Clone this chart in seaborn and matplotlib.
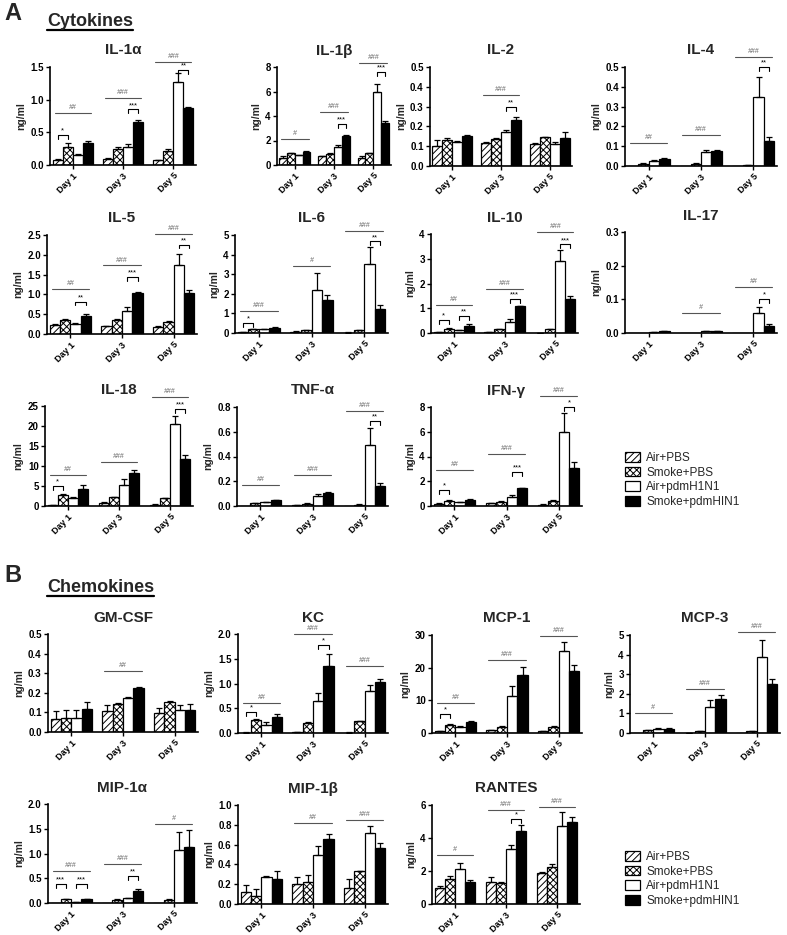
import numpy as np
import pandas as pd
import matplotlib
matplotlib.use("Agg")
import matplotlib.pyplot as plt
import seaborn as sns
from matplotlib.patches import Patch
from matplotlib.lines import Line2D

sns.set_theme(style="ticks")
plt.rcParams["font.family"] = ["Liberation Sans", "DejaVu Sans"]
plt.rcParams["hatch.linewidth"] = 0.7

# ---------------- data ----------------
days = ["Day 1", "Day 3", "Day 5"]
groups = ["Air+PBS", "Smoke+PBS", "Air+pdmH1N1", "Smoke+pdmHIN1"]
colors = ["white", "white", "white", "black"]
hatches = ["/////", "xxxxx", "", ""]

# means: one row per day, 4 groups; sem same layout
il1a_mean = [[0.08, 0.27, 0.15, 0.33], [0.09, 0.24, 0.27, 0.66], [0.07, 0.21, 1.27, 0.87]]
il1a_sem = [[0.005, 0.07, 0.02, 0.04], [0.01, 0.03, 0.05, 0.03], [0.005, 0.03, 0.14, 0.02]]
il1a_sig = [(0, "##", 0.79), (0, "*", 0.46, (0, 1)), (1, "###", 1.03), (1, "***", 0.85, (2, 3)),
            (2, "###", 1.57), (2, "**", 1.46, (2, 3))]

il1b_mean = [[0.55, 0.95, 0.8, 1.05], [0.7, 0.9, 1.45, 2.4], [0.55, 0.95, 6.0, 3.45]]
il1b_sem = [[0.15, 0.05, 0.03, 0.1], [0.05, 0.05, 0.15, 0.08], [0.15, 0.05, 0.65, 0.12]]
il1b_sig = [(0, "#", 2.1), (1, "###", 4.3), (1, "***", 3.35, (2, 3)), (2, "###", 8.35), (2, "***", 7.6, (2, 3))]

il2_mean = [[0.10, 0.13, 0.12, 0.15], [0.115, 0.138, 0.17, 0.232], [0.112, 0.145, 0.11, 0.14]]
il2_sem = [[0.03, 0.01, 0.005, 0.008], [0.005, 0.005, 0.01, 0.013], [0.005, 0.003, 0.012, 0.032]]
il2_sig = [(1, "###", 0.36), (1, "**", 0.30, (2, 3))]

il4_mean = [[0.002, 0.01, 0.025, 0.035], [0.001, 0.012, 0.07, 0.075], [0.001, 0.004, 0.35, 0.125]]
il4_sem = [[0.0, 0.004, 0.003, 0.005], [0.0, 0.004, 0.013, 0.008], [0.0, 0.002, 0.1, 0.02]]
il4_sig = [(0, "##", 0.115), (1, "###", 0.155), (2, "###", 0.55), (2, "**", 0.50, (2, 3))]

il5_mean = [[0.22, 0.35, 0.26, 0.45], [0.2, 0.36, 0.58, 1.04], [0.18, 0.31, 1.74, 1.03]]
il5_sem = [[0.02, 0.03, 0.02, 0.05], [0.01, 0.02, 0.1, 0.02], [0.01, 0.02, 0.28, 0.07]]
il5_sig = [(0, "##", 1.13), (0, "**", 0.82, (2, 3)), (1, "###", 1.73), (1, "***", 1.43, (2, 3)),
           (2, "###", 2.52), (2, "**", 2.26, (2, 3))]

il6_mean = [[0.05, 0.18, 0.2, 0.28], [0.07, 0.15, 2.2, 1.7], [0.02, 0.15, 3.5, 1.2]]
il6_sem = [[0.01, 0.02, 0.02, 0.03], [0.01, 0.02, 0.85, 0.25], [0.01, 0.02, 0.9, 0.25]]
il6_sig = [(0, "###", 1.12), (0, "*", 0.5, (0, 1)), (1, "#", 3.4), (2, "###", 5.2), (2, "**", 4.67, (2, 3))]

il10_mean = [[0.03, 0.18, 0.12, 0.3], [0.05, 0.15, 0.45, 1.08], [0.01, 0.15, 2.92, 1.38]]
il10_sem = [[0.01, 0.03, 0.01, 0.05], [0.01, 0.02, 0.1, 0.03], [0.005, 0.03, 0.45, 0.12]]
il10_sig = [(0, "##", 1.15), (0, "*", 0.51, (0, 1)), (0, "**", 0.69, (2, 3)), (1, "###", 1.77),
            (1, "***", 1.36, (2, 3)), (2, "###", 4.1), (2, "***", 3.58, (2, 3))]

il17_mean = [[0.0, 0.0005, 0.002, 0.005], [0.0, 0.0, 0.006, 0.006], [0.0, 0.0, 0.058, 0.021]]
il17_sem = [[0.0, 0.0, 0.0005, 0.001], [0.0, 0.0, 0.001, 0.001], [0.0, 0.0, 0.02, 0.005]]
il17_sig = [(1, "#", 0.058), (2, "##", 0.138), (2, "*", 0.10, (2, 3))]

il18_mean = [[0.2, 2.7, 2.0, 4.2], [0.7, 2.2, 5.3, 8.3], [0.3, 1.9, 20.4, 11.7]]
il18_sem = [[0.1, 0.4, 0.2, 1.0], [0.3, 0.1, 1.4, 0.6], [0.1, 0.1, 2.0, 1.1]]
il18_sig = [(0, "##", 7.7), (0, "*", 5.0, (0, 1)), (1, "###", 11.0), (2, "###", 27.3), (2, "***", 24.2, (2, 3))]

tnfa_mean = [[0.0, 0.022, 0.03, 0.045], [0.005, 0.02, 0.08, 0.105], [0.0, 0.012, 0.49, 0.165]]
tnfa_sem = [[0.0, 0.003, 0.003, 0.005], [0.001, 0.003, 0.02, 0.008], [0.0, 0.003, 0.14, 0.02]]
tnfa_sig = [(0, "##", 0.17), (1, "###", 0.25), (2, "###", 0.77), (2, "**", 0.685, (2, 3))]

ifng_mean = [[0.2, 0.4, 0.3, 0.5], [0.25, 0.35, 0.75, 1.42], [0.12, 0.4, 6.0, 3.05]]
ifng_sem = [[0.03, 0.05, 0.02, 0.05], [0.03, 0.03, 0.1, 0.05], [0.03, 0.05, 1.5, 0.5]]
ifng_sig = [(0, "##", 2.9), (0, "*", 1.3, (0, 1)), (1, "###", 4.2), (1, "***", 2.75, (2, 3)),
            (2, "###", 8.9), (2, "*", 8.0, (2, 3))]

gmcsf_mean = [[0.068, 0.072, 0.072, 0.115], [0.105, 0.143, 0.172, 0.225], [0.095, 0.155, 0.11, 0.11]]
gmcsf_sem = [[0.038, 0.04, 0.038, 0.037], [0.035, 0.003, 0.008, 0.007], [0.03, 0.003, 0.027, 0.035]]
gmcsf_sig = [(1, "##", 0.31)]

kc_mean = [[0.01, 0.26, 0.16, 0.33], [0.015, 0.21, 0.65, 1.35], [0.01, 0.24, 0.84, 1.04]]
kc_sem = [[0.003, 0.03, 0.06, 0.05], [0.003, 0.01, 0.16, 0.25], [0.003, 0.01, 0.13, 0.06]]
kc_sig = [(0, "##", 0.6), (0, "*", 0.43, (0, 1)), (1, "###", 2.0), (1, "*", 1.78, (2, 3)), (2, "###", 1.36)]

mcp1_mean = [[0.6, 2.5, 1.8, 3.4], [0.8, 1.9, 11.3, 17.8], [0.6, 1.9, 25.0, 18.9]]
mcp1_sem = [[0.1, 0.4, 0.2, 0.4], [0.1, 0.2, 3.0, 2.3], [0.1, 0.2, 3.0, 2.0]]
mcp1_sig = [(0, "##", 9.2), (0, "*", 5.9, (0, 1)), (1, "###", 22.4), (2, "###", 29.8)]

mcp3_mean = [[0.0, 0.15, 0.22, 0.2], [0.02, 0.1, 1.35, 1.75], [0.0, 0.08, 3.87, 2.5]]
mcp3_sem = [[0.0, 0.02, 0.05, 0.03], [0.005, 0.02, 0.35, 0.2], [0.0, 0.02, 0.85, 0.25]]
mcp3_sig = [(0, "#", 1.02), (1, "###", 2.25), (2, "###", 5.14)]

mip1a_mean = [[0.0, 0.08, 0.02, 0.085], [0.0, 0.07, 0.1, 0.24], [0.0, 0.07, 1.08, 1.14]]
mip1a_sem = [[0.0, 0.005, 0.003, 0.005], [0.0, 0.005, 0.01, 0.04], [0.0, 0.005, 0.35, 0.33]]
mip1a_sig = [(0, "###", 0.64), (0, "***", 0.39, (0, 1)), (0, "***", 0.39, (2, 3)), (1, "###", 0.79),
             (1, "**", 0.55, (2, 3)), (2, "#", 1.59)]

mip1b_mean = [[0.12, 0.08, 0.27, 0.25], [0.2, 0.22, 0.49, 0.66], [0.16, 0.33, 0.72, 0.57]]
mip1b_sem = [[0.07, 0.07, 0.015, 0.08], [0.07, 0.07, 0.1, 0.05], [0.09, 0.007, 0.07, 0.05]]
mip1b_sig = [(1, "##", 0.82), (2, "###", 0.85)]

rantes_mean = [[1.0, 1.5, 2.1, 1.35], [1.35, 1.28, 3.35, 4.45], [1.88, 2.25, 4.7, 4.95]]
rantes_sem = [[0.12, 0.2, 0.4, 0.12], [0.3, 0.05, 0.2, 0.35], [0.07, 0.2, 0.85, 0.35]]
rantes_sig = [(0, "#", 2.96), (1, "###", 5.67), (1, "*", 5.13, (2, 3)), (2, "###", 5.88)]

# ---------------- layout ----------------
W, H = 787, 935
fig = plt.figure(figsize=(W / 100, H / 100), dpi=100)

# (title, mean, sem, sig, ymax, ystep, decimals, box=(left, right, top, bottom) px)
panels = [
    ("IL-1α", il1a_mean, il1a_sem, il1a_sig, 1.5, 0.5, 1, (50, 196, 67, 165)),
    ("IL-1β", il1b_mean, il1b_sem, il1b_sig, 8, 2, 0, (277, 391, 67, 165)),
    ("IL-2", il2_mean, il2_sem, il2_sig, 0.5, 0.1, 1, (430, 572, 67, 166)),
    ("IL-4", il4_mean, il4_sem, il4_sig, 0.5, 0.1, 1, (625, 777, 67, 166)),
    ("IL-5", il5_mean, il5_sem, il5_sig, 2.5, 0.5, 1, (47, 197, 235, 334)),
    ("IL-6", il6_mean, il6_sem, il6_sig, 5, 1, 0, (235, 388, 235, 333)),
    ("IL-10", il10_mean, il10_sem, il10_sig, 4, 1, 0, (431, 578, 234, 333)),
    ("IL-17", il17_mean, il17_sem, il17_sig, 0.3, 0.1, 1, (625, 777, 232, 333)),
    ("IL-18", il18_mean, il18_sem, il18_sig, 25, 5, 0, (45, 193, 406, 506)),
    ("TNF-α", tnfa_mean, tnfa_sem, tnfa_sig, 0.8, 0.2, 1, (237, 388, 407, 506)),
    ("IFN-γ", ifng_mean, ifng_sem, ifng_sig, 8, 2, 0, (431, 582, 407, 506)),
    ("GM-CSF", gmcsf_mean, gmcsf_sem, gmcsf_sig, 0.5, 0.1, 1, (48, 198, 634, 732)),
    ("KC", kc_mean, kc_sem, kc_sig, 2.0, 0.5, 1, (238, 388, 634, 733)),
    ("MCP-1", mcp1_mean, mcp1_sem, mcp1_sig, 30, 10, 0, (432, 582, 635, 733)),
    ("MCP-3", mcp3_mean, mcp3_sem, mcp3_sig, 5, 1, 0, (630, 780, 635, 733)),
    ("MIP-1α", mip1a_mean, mip1a_sem, mip1a_sig, 2.0, 0.5, 1, (48, 197, 804, 903)),
    ("MIP-1β", mip1b_mean, mip1b_sem, mip1b_sig, 1.0, 0.2, 1, (238, 388, 805, 904)),
    ("RANTES", rantes_mean, rantes_sem, rantes_sig, 6, 2, 0, (432, 580, 805, 904)),
]


def draw_panel(title, mean, sem, sig, ymax, ystep, dec, box):
    l, r, t, b = box
    ax = fig.add_axes([l / W, 1 - b / H, (r - l) / W, (b - t) / H])
    df = pd.DataFrame({
        "Day": np.repeat(days, len(groups)),
        "Group": groups * len(days),
        "value": np.ravel(mean),
    })
    sns.barplot(data=df, x="Day", y="value", hue="Group", order=days, hue_order=groups,
                palette=colors, saturation=1, edgecolor="black", linewidth=0.9,
                errorbar=None, legend=False, width=0.8, ax=ax)
    conts = list(ax.containers)[:len(groups)]
    bars = [[None] * len(groups) for _ in range(len(days))]
    for h, cont in enumerate(conts):
        for d, bar in enumerate(list(cont)[:len(days)]):
            bars[d][h] = bar
            if hatches[h]:
                bar.set_hatch(hatches[h])
    for d in range(len(days)):
        for h in range(len(groups)):
            bar = bars[d][h]
            e = sem[d][h]
            if e > 0:
                xc = bar.get_x() + bar.get_width() / 2
                ax.errorbar([xc], [bar.get_height()], yerr=[[0], [e]], fmt="none",
                            ecolor="black", elinewidth=0.9, capsize=2.2, capthick=0.9, zorder=3)
    for item in sig:
        d, lab, y = item[0], item[1], item[2]
        if len(item) == 3:
            b0, b3 = bars[d][0], bars[d][3]
            x0 = b0.get_x() + 0.2 * b0.get_width()
            x1 = b3.get_x() + 0.8 * b3.get_width()
            ax.plot([x0, x1], [y, y], color="#555555", lw=0.8, clip_on=False)
            ax.text((x0 + x1) / 2, y + ymax * 0.02, lab, ha="center", va="bottom",
                    fontsize=5, color="#666666", style="italic", clip_on=False)
        else:
            i, j = item[3]
            xi = bars[d][i].get_x() + bars[d][i].get_width() / 2
            xj = bars[d][j].get_x() + bars[d][j].get_width() / 2
            tk = ymax * 0.04
            ax.plot([xi, xi, xj, xj], [y - tk, y, y, y - tk], color="black", lw=0.8, clip_on=False)
            ax.text((xi + xj) / 2, y + ymax * 0.005, lab, ha="center", va="bottom",
                    fontsize=5.5, color="black", clip_on=False)
    ax.set_xlim(-0.45, 2.45)
    ax.set_ylim(0, ymax)
    yt = np.arange(0, ymax + ystep / 2, ystep)
    ax.set_yticks(yt)
    ax.set_yticklabels([f"{v:.{dec}f}" for v in yt], fontsize=7, fontweight="bold")
    ax.set_xticks(range(3))
    ax.set_xticklabels(days, rotation=45, ha="right", rotation_mode="anchor",
                       fontsize=6.5, fontweight="bold")
    ax.set_xlabel("")
    ax.set_ylabel("ng/ml", fontsize=7.5, fontweight="bold", labelpad=3)
    ax.set_title(title, fontsize=11, fontweight="bold", pad=9)
    sns.despine(ax=ax)
    for s in ("left", "bottom"):
        ax.spines[s].set_linewidth(1.2)
        ax.spines[s].set_color("black")
    ax.tick_params(axis="both", direction="out", length=3, width=1, pad=1.5, colors="black")
    ax.set_facecolor("white")
    return ax


for p in panels:
    draw_panel(*p)

# section headers
fig.text(4 / W, 1 - 14 / H, "A", fontsize=17, fontweight="bold", va="center", ha="left")
fig.text(4 / W, 1 - 576 / H, "B", fontsize=17, fontweight="bold", va="center", ha="left")
t1 = fig.text(47 / W, 1 - 26 / H, "Cytokines", fontsize=13, fontweight="bold", va="baseline", ha="left")
t2 = fig.text(47 / W, 1 - 592 / H, "Chemokines", fontsize=13, fontweight="bold", va="baseline", ha="left")
fig.canvas.draw()
for t, yb in ((t1, 26), (t2, 592)):
    bb = t.get_window_extent()
    yl = 1 - (yb + 4) / H
    fig.add_artist(Line2D([bb.x0 / W, bb.x1 / W], [yl, yl], color="black", lw=1.6,
                          transform=fig.transFigure))

# legends
handles = [Patch(facecolor=c, edgecolor="black", hatch=hh, label=g, linewidth=0.9)
           for g, c, hh in zip(groups, colors, hatches)]
for ytop in (452, 851):
    fig.legend(handles=handles, loc="upper left", bbox_to_anchor=(625 / W, 1 - ytop / H),
               frameon=False, fontsize=8.5, handlelength=1.3, handleheight=0.9,
               handletextpad=0.5, labelspacing=0.22, borderaxespad=0, borderpad=0)

fig.savefig("out.png", dpi=100, facecolor="white")
